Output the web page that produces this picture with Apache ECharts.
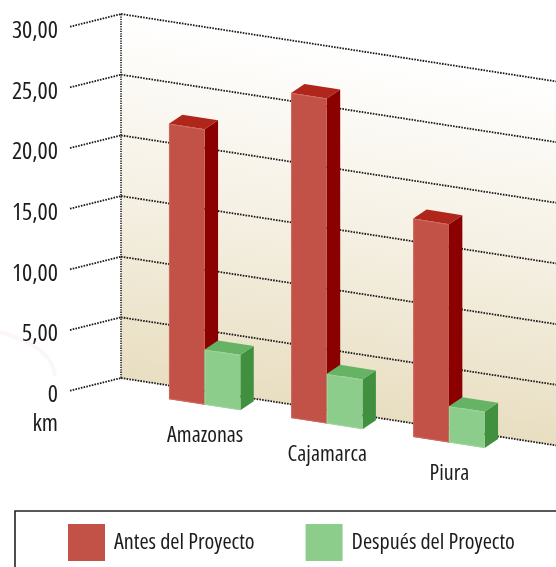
<!DOCTYPE html>
<html><head><meta charset="utf-8">
<style>html,body{margin:0;padding:0;background:#fff}#c{width:556px;height:567px}</style>
<script src="https://cdn.jsdelivr.net/npm/echarts@6/dist/echarts.min.js"></script>
</head><body><div id="c"></div>
<script>
var categories = ['Amazonas', 'Cajamarca', 'Piura'];
var antes = [22.7, 26.8, 18.0];
var despues = [4.55, 4.1, 3.0];
var tickValues = [0, 5, 10, 15, 20, 25, 30];
var tickLabels = ['0', '5,00', '10,00', '15,00', '20,00', '25,00', '30,00'];
var seriesNames = ['Antes del Proyecto', 'Después del Proyecto'];
var unitLabel = 'km';

var FONT = '"Open Sans", sans-serif';
var STRETCH = 'condensed';
var INK = '#1c1c1c';
var SLOPE = 0.155, WALL_X = 121, RIGHT_X = 640, SIDE_X = 70, SIDE_DY = 12.7;
var WALL_OFF = -14.5, FRONT_OFF = -0.8;
var DEPTH = [13.4, -9], BAR_W = 35.7;

function shear(x, y, off) { return [x, y + SLOPE * (x - WALL_X) + off]; }

function wallItem(params, api) {
  var top = api.coord([0, 30])[1], bot = api.coord([0, 0])[1];
  var pts = [shear(WALL_X, top, WALL_OFF), shear(RIGHT_X, top, WALL_OFF), shear(RIGHT_X, bot, WALL_OFF), shear(WALL_X, bot, WALL_OFF)];
  return { type: 'group', children: [
    { type: 'polygon', shape: { points: pts }, style: { fill: new echarts.graphic.LinearGradient(121, 13.5, 66, 369.5, [
        { offset: 0, color: '#ffffff' }, { offset: 0.5, color: '#f5f0e3' }, { offset: 1, color: '#e8dec1' }], true) } },
    { type: 'line', shape: { x1: WALL_X, y1: pts[0][1], x2: WALL_X, y2: pts[3][1] },
      style: { stroke: '#222', lineWidth: 1.6, lineDash: [1.3, 1.1], fill: null } }
  ] };
}
function gridItem(params, api) {
  var y = api.coord([0, api.value(1)])[1];
  var a = shear(WALL_X, y, WALL_OFF), b = shear(RIGHT_X, y, WALL_OFF);
  var line = { stroke: '#1a1a1a', lineWidth: 1.8, lineDash: [1.6, 1.2], fill: null };
  return { type: 'group', children: [
    { type: 'line', shape: { x1: a[0], y1: a[1], x2: b[0], y2: b[1] }, style: line },
    { type: 'line', shape: { x1: SIDE_X, y1: a[1] + SIDE_DY, x2: a[0], y2: a[1] }, style: line }
  ] };
}
function barItem(dir, cols) {
  return function (params, api) {
    var p0 = api.coord([api.value(0), 0]), p1 = api.coord([api.value(0), api.value(1)]);
    var x0 = dir < 0 ? p0[0] - BAR_W : p0[0], x1 = x0 + BAR_W;
    var bl = shear(x0, p0[1], FRONT_OFF), br = shear(x1, p0[1], FRONT_OFF);
    var tl = shear(x0, p1[1], FRONT_OFF), tr = shear(x1, p1[1], FRONT_OFF);
    var d = function (q) { return [q[0] + DEPTH[0], q[1] + DEPTH[1]]; };
    return { type: 'group', children: [
      { type: 'polygon', shape: { points: [tr, d(tr), d(br), br] }, style: { fill: cols.side } },
      { type: 'polygon', shape: { points: [tl, d(tl), d(tr), tr] }, style: { fill: cols.top } },
      { type: 'polygon', shape: { points: [tl, tr, br, bl] }, style: { fill: cols.front } },
      { type: 'polyline', shape: { points: [[bl[0] + 0.5, bl[1]], [tl[0] + 0.5, tl[1] + 0.5], [tr[0], tr[1] + 0.5]] }, style: { stroke: cols.edge, lineWidth: 1, fill: null } },
      { type: 'line', shape: { x1: bl[0], y1: bl[1] - 0.5, x2: br[0], y2: br[1] - 0.5 }, style: { stroke: cols.edge, lineWidth: 1 } }
    ] };
  };
}
function labelItem(params, api) {
  var p = api.coord([api.value(0), 0]);
  var q = shear(p[0], p[1], FRONT_OFF);
  return { type: 'text', style: { text: categories[api.value(0)], x: q[0] + 0.5, y: q[1] + 31, align: 'center', verticalAlign: 'middle', fill: INK, font: STRETCH + ' 22px ' + FONT } };
}
function pairs(vals) { return vals.map(function (v, i) { return [i, v]; }); }

var chart = echarts.init(document.getElementById('c'), null, { renderer: 'canvas' });
chart.setOption({
  animation: false,
  backgroundColor: '#fff',
  grid: { left: 143.6, top: 28.5, width: 366.4, height: 364, outerBoundsMode: 'none' },
  xAxis: { type: 'category', data: categories, axisLine: { show: false }, axisTick: { show: false }, axisLabel: { show: false }, splitLine: { show: false } },
  yAxis: { type: 'value', min: 0, max: 30, interval: 5, offset: 73.6,
    name: unitLabel, nameLocation: 'start', nameGap: 32,
    nameTextStyle: { color: INK, fontFamily: FONT, fontStyle: STRETCH, fontSize: 24, align: 'right', verticalAlign: 'middle', padding: [0, 12, 0, 0] },
    axisLine: { show: false }, axisTick: { show: false }, splitLine: { show: false },
    axisLabel: { margin: 12, color: INK, fontFamily: FONT, fontStyle: STRETCH, fontSize: 24, verticalAlign: 'top', lineHeight: 5,
      formatter: function (v) { return tickLabels[tickValues.indexOf(v)]; } } },
  legend: { left: 68, top: 524, padding: 0, orient: 'horizontal', icon: 'rect', itemWidth: 37, itemHeight: 37, itemGap: 51,
    data: seriesNames, selectedMode: false,
    textStyle: { color: INK, fontFamily: FONT, fontStyle: STRETCH, fontSize: 22.2, padding: [3, 0, 0, 4] } },
  graphic: [
    { type: 'rect', shape: { x: 15, y: 511, width: 700, height: 120 }, style: { fill: 'none', stroke: '#222', lineWidth: 1.6 }, silent: true },
    { type: 'bezierCurve', shape: { x1: 0, y1: 332, cpx1: 28, cpy1: 340, cpx2: 52, cpy2: 352, x2: 55, y2: 376 }, style: { stroke: 'rgba(240,210,220,0.2)', lineWidth: 4, fill: 'none' }, silent: true }
  ],
  series: [
    { type: 'custom', name: 'pared', coordinateSystem: 'cartesian2d', data: [[0, 30]], renderItem: wallItem, silent: true, clip: false, z: 1 },
    { type: 'custom', name: 'rejilla', coordinateSystem: 'cartesian2d', data: pairs(tickValues).map(function (p) { return [0, p[1]]; }), renderItem: gridItem, silent: true, clip: false, z: 2 },
    { type: 'custom', name: seriesNames[0], coordinateSystem: 'cartesian2d', data: pairs(antes), itemStyle: { color: '#c25247' }, clip: false, z: 3,
      renderItem: barItem(-1, { front: '#c25247', top: '#b0261a', side: '#8b0000', edge: '#d0695e' }) },
    { type: 'custom', name: seriesNames[1], coordinateSystem: 'cartesian2d', data: pairs(despues), itemStyle: { color: '#8ccd8c' }, clip: false, z: 4,
      renderItem: barItem(1, { front: '#8ccd8c', top: '#66b366', side: '#409040', edge: '#9cd69c' }) },
    { type: 'custom', name: 'etiquetas', coordinateSystem: 'cartesian2d', data: pairs(categories.map(function () { return 0; })), renderItem: labelItem, silent: true, clip: false, z: 5 }
  ]
});
</script></body></html>
